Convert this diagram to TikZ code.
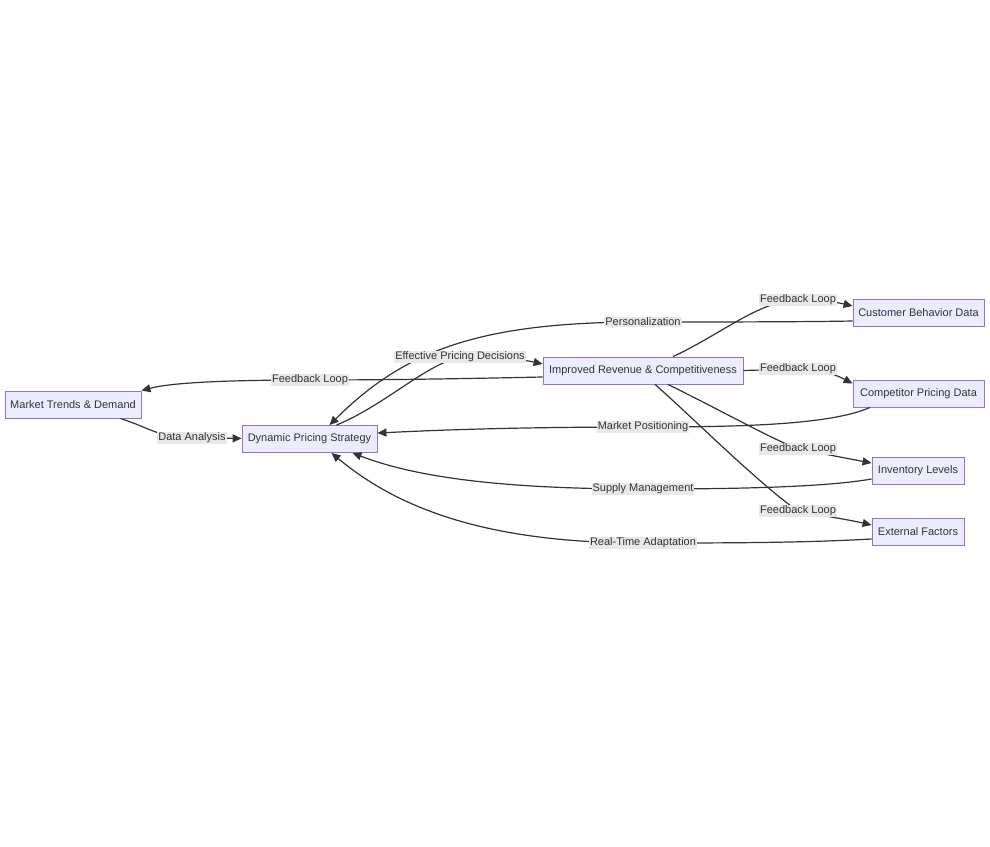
\documentclass[tikz,border=0pt]{standalone}
\usepackage{fontspec}
\setmainfont{Liberation Sans}
\usetikzlibrary{arrows.meta}
\definecolor{nodefill}{HTML}{ECECFF}
\definecolor{nodedraw}{HTML}{9370DB}
\definecolor{edgecol}{HTML}{333333}
\definecolor{labfill}{HTML}{E8E8E8}
\tikzset{
  box/.style={draw=nodedraw, fill=nodefill, line width=0.9pt, minimum height=27pt, inner sep=0pt,
    text=edgecol, font=\fontsize{11}{13}\selectfont},
  edge/.style={draw=edgecol, line width=1.2pt, -{Triangle[length=9pt,width=8pt]}},
  elabel/.style={fill=labfill, inner sep=1pt, text=edgecol, font=\fontsize{11}{13}\selectfont}
}
\begin{document}
\begin{tikzpicture}[x=1pt,y=-1pt]
\useasboundingbox[fill=white] (0,0) rectangle (990,846);
% nodes
\node[box, minimum width=136pt] (mt) at (73,404.5) {Market Trends \& Demand};
\node[box, minimum width=135pt] (ds) at (309.5,439) {Dynamic Pricing Strategy};
\node[box, minimum width=200pt] (ir) at (643,370.5) {Improved Revenue \& Competitiveness};
\node[box, minimum width=131pt] (cb) at (918.5,312.5) {Customer Behavior Data};
\node[box, minimum width=131pt] (cp) at (918.5,393.5) {Competitor Pricing Data};
\node[box, minimum width=92pt] (il) at (918,470.5) {Inventory Levels};
\node[box, minimum width=92pt] (ef) at (918,532) {External Factors};
% label positions
\coordinate (l1) at (192,438);
\coordinate (l2) at (460,357);
\coordinate (l3) at (310,380);
\coordinate (l4) at (798,300);
\coordinate (l5) at (798,369);
\coordinate (l6) at (798,449);
\coordinate (l7) at (798,511);
\coordinate (l8) at (643,322);
\coordinate (l9) at (643,427);
\coordinate (l10) at (643,489);
\coordinate (l11) at (643,543);
% edges
\draw[edge] ([xshift=-21pt]mt.south east) .. controls (150,428) and (160,438) .. (l1) -- (ds);
\draw[edge] ([xshift=27pt]ds.north) .. controls (385,405) and (425,365) .. (l2) .. controls (500,357) and (525,360) .. ([yshift=6.5pt]ir.west);
\draw[edge] ([yshift=-6.5pt]ir.west) .. controls (450,379) and (380,380) .. (l3) .. controls (220,380) and (170,383) .. (mt.north east);
\draw[edge] ([xshift=30pt]ir.north) .. controls (720,335) and (760,300) .. (l4) .. controls (825,300) and (840,303) .. ([yshift=6.5pt]cb.west);
\draw[edge] (ir.east) -- (l5) .. controls (825,369) and (840,377) .. ([yshift=10pt]cp.west);
\draw[edge] ([xshift=25pt]ir.south) .. controls (720,410) and (770,438) .. (l6) .. controls (830,455) and (850,459) .. ([yshift=7.5pt]il.west);
\draw[edge] ([xshift=12pt]ir.south) .. controls (690,415) and (760,485) .. (l7) .. controls (830,517) and (850,520) .. ([yshift=7pt]ef.west);
\draw[edge] ([yshift=-8.5pt]cb.west) .. controls (800,322) and (700,322) .. (l8) .. controls (480,322) and (405,350) .. ([xshift=20pt]ds.north);
\draw[edge] ([xshift=-48.5pt]cp.south) .. controls (830,425) and (740,427) .. (l9) .. controls (500,427) and (420,431) .. ([yshift=6pt]ds.east);
\draw[edge] ([yshift=-8.5pt]il.west) .. controls (820,488) and (720,489) .. (l10) .. controls (490,489) and (410,475) .. ([xshift=43pt]ds.south);
\draw[edge] ([yshift=-7pt]ef.west) .. controls (800,543) and (720,543) .. (l11) .. controls (490,543) and (400,510) .. ([xshift=22pt]ds.south);
% labels
\node[elabel] (t1) at (l1) {Data Analysis};
\node[elabel] (t2) at (l2) {Effective Pricing Decisions};
\node[elabel] (t3) at (l3) {Feedback Loop};
\node[elabel] (t4) at (l4) {Feedback Loop};
\node[elabel] (t5) at (l5) {Feedback Loop};
\node[elabel] (t6) at (l6) {Feedback Loop};
\node[elabel] (t7) at (l7) {Feedback Loop};
\node[elabel] (t8) at (l8) {Personalization};
\node[elabel] (t9) at (l9) {Market Positioning};
\node[elabel] (t10) at (l10) {Supply Management};
\node[elabel] (t11) at (l11) {Real-Time Adaptation};
\end{tikzpicture}
\end{document}
